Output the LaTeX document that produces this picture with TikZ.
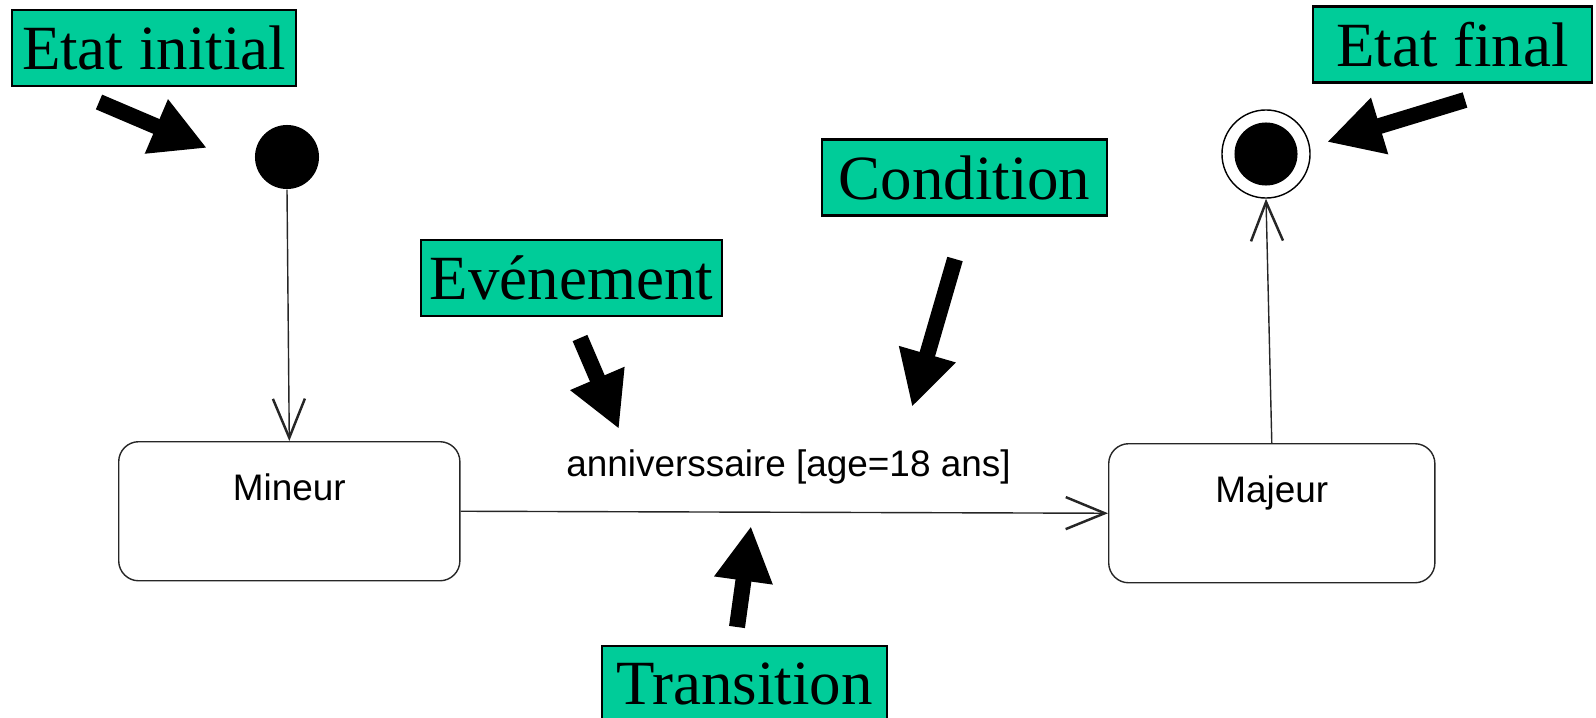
\documentclass[tikz,border=0pt]{standalone}
\usepackage{fontspec}
\setmainfont{Liberation Serif}
\setsansfont{Liberation Sans}
\usetikzlibrary{arrows.meta,positioning,shapes,calc}
\definecolor{notegreen}{RGB}{0,204,153}

\begin{document}
\begin{tikzpicture}[
  x=0.01cm, y=-0.01cm,
  note/.style={rectangle, draw=black, line width=0.6pt, fill=notegreen, inner sep=0pt, minimum height=0.76cm, font=\fontsize{17.9}{20}\selectfont},
  state/.style={rectangle, rounded corners=0.2cm, draw=black!85, line width=0.4pt, inner sep=0pt, text height=0.59cm, text depth=0.8cm, font=\sffamily\fontsize{10.5}{12}\selectfont},
  pointer/.style={-{Triangle[length=5.5mm, width=5.5mm]}, line width=0.16cm},
  trans/.style={-{Straight Barb[length=3.9mm, width=3.2mm, line width=0.7pt]}, line width=0.4pt, draw=black!85}
]
  \useasboundingbox (0,0) rectangle (1596,718);

  % states
  \node[circle, fill=black, minimum size=0.64cm, inner sep=0pt] (init) at (287,157) {};
  \node[state, anchor=north west, minimum width=3.41cm] (mineur) at (118,441) {Mineur};
  \node[state, anchor=north west, minimum width=3.26cm] (majeur) at (1108,443) {Majeur};
  \node[circle, draw, line width=0.4pt, minimum size=0.88cm, inner sep=0pt] (final) at (1266,154) {};
  \fill (final.center) circle (3.15mm);

  % transitions
  \draw[trans] (init.south) -- (mineur.north);
  \draw[trans] (mineur.east) -- (majeur.west);
  \draw[trans] (majeur.north) -- (final.south);
  \node[anchor=base, inner sep=0pt, font=\sffamily\fontsize{10.5}{12}\selectfont] (guard) at (788.5,476) {anniverssaire [age=18 ans]};

  % notes
  \node[note, minimum width=2.84cm] (initnote) at (154,48) {Etat initial};
  \node[note, minimum width=2.79cm] (finalnote) at (1452.5,44.5) {Etat final};
  \node[note, minimum width=2.85cm] (condnote) at (964.5,177.5) {Condition};
  \node[note, minimum width=3.01cm] (eventnote) at (571.5,278) {Evénement};
  \node[note, minimum width=2.85cm] (transnote) at (744.5,684) {Transition};

  % pointers from the notes
  \coordinate (initfrom) at (99,102);
  \coordinate (initto) at (207,148);
  \coordinate (finalfrom) at (1465,100);
  \coordinate (finalto) at (1327,142);
  \coordinate (eventfrom) at (580,338);
  \coordinate (eventto) at (619,429);
  \coordinate (condfrom) at (955,259);
  \coordinate (condto) at (912,407);
  \coordinate (transfrom) at (737,627);
  \coordinate (transto) at (751,526);
  \draw[pointer] (initfrom) -- (initto);
  \draw[pointer] (finalfrom) -- (finalto);
  \draw[pointer] (eventfrom) -- (eventto);
  \draw[pointer] (condfrom) -- (condto);
  \draw[pointer] (transfrom) -- (transto);
\end{tikzpicture}
\end{document}
